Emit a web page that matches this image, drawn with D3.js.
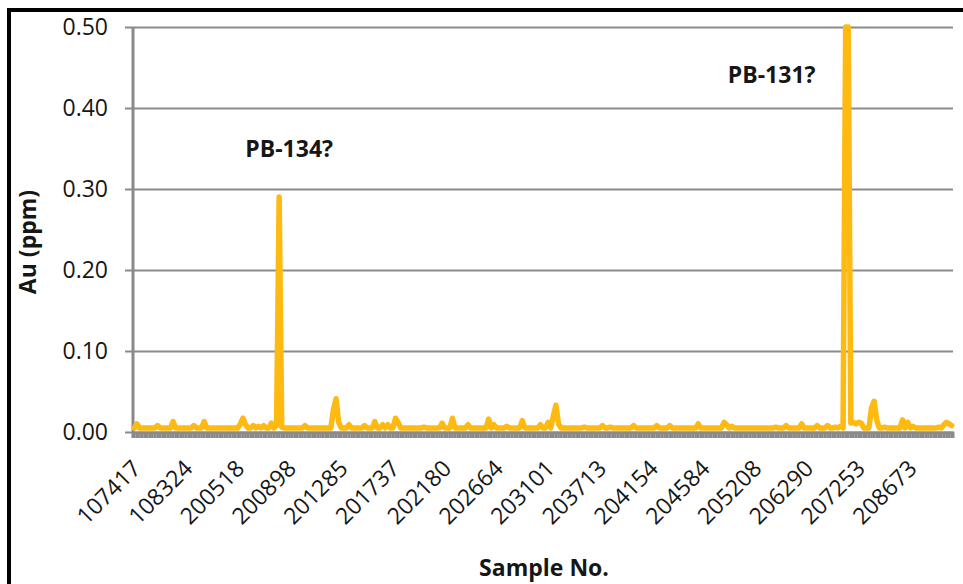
<!DOCTYPE html>
<html>
<head>
<meta charset="utf-8">
<script src="https://cdn.jsdelivr.net/npm/d3@7"></script>
<style>
  body { margin: 0; background: #fff; }
  svg { display: block; font-family: "Open Sans", Lato, sans-serif; }
</style>
</head>
<body>
<svg id="chart" width="963" height="584"></svg>
<script>
// Au assays (ppm), one value per sample in sequence order
const auValues = [
  0.005,0.010,0.005,0.005,0.005,0.005,0.005,0.005,0.005,0.008,0.005,0.005,0.005,0.005,0.005,0.013,0.005,0.005,0.005,0.005,
  0.005,0.005,0.005,0.008,0.005,0.005,0.005,0.013,0.005,0.005,0.005,0.005,0.005,0.005,0.005,0.005,0.005,0.005,0.005,0.005,
  0.005,0.010,0.017,0.009,0.005,0.005,0.008,0.005,0.007,0.005,0.008,0.005,0.005,0.011,0.005,0.008,0.290,0.006,0.005,0.005,
  0.005,0.005,0.005,0.005,0.005,0.005,0.008,0.005,0.005,0.005,0.005,0.005,0.005,0.005,0.005,0.005,0.005,0.028,0.041,0.012,
  0.005,0.005,0.005,0.009,0.005,0.005,0.005,0.005,0.005,0.008,0.005,0.005,0.005,0.013,0.005,0.005,0.009,0.005,0.009,0.005,
  0.005,0.017,0.012,0.005,0.005,0.005,0.005,0.005,0.005,0.005,0.005,0.005,0.006,0.005,0.005,0.005,0.005,0.005,0.005,0.011,
  0.005,0.005,0.005,0.017,0.005,0.005,0.005,0.005,0.005,0.009,0.005,0.005,0.005,0.005,0.005,0.005,0.005,0.016,0.005,0.009,
  0.005,0.005,0.005,0.005,0.007,0.005,0.005,0.005,0.005,0.005,0.014,0.005,0.005,0.005,0.005,0.005,0.005,0.009,0.005,0.005,
  0.012,0.005,0.020,0.033,0.010,0.005,0.005,0.005,0.005,0.005,0.005,0.005,0.005,0.005,0.006,0.005,0.005,0.005,0.005,0.005,
  0.005,0.008,0.005,0.005,0.006,0.005,0.005,0.005,0.005,0.005,0.005,0.005,0.005,0.008,0.005,0.005,0.005,0.005,0.005,0.005,
  0.005,0.005,0.008,0.005,0.005,0.005,0.005,0.008,0.005,0.005,0.005,0.005,0.005,0.005,0.005,0.005,0.005,0.005,0.010,0.005,
  0.005,0.005,0.005,0.005,0.005,0.005,0.005,0.005,0.012,0.009,0.005,0.007,0.005,0.005,0.005,0.005,0.005,0.005,0.005,0.005,
  0.005,0.005,0.005,0.005,0.005,0.005,0.005,0.005,0.006,0.005,0.005,0.005,0.008,0.005,0.005,0.005,0.005,0.005,0.010,0.005,
  0.005,0.005,0.005,0.005,0.008,0.005,0.005,0.005,0.008,0.005,0.005,0.006,0.005,0.007,0.005,0.500,0.500,0.011,0.012,0.010,
  0.012,0.011,0.005,0.005,0.005,0.030,0.038,0.015,0.005,0.005,0.006,0.005,0.005,0.005,0.005,0.005,0.005,0.015,0.005,0.012,
  0.005,0.007,0.005,0.005,0.005,0.005,0.005,0.005,0.005,0.005,0.005,0.006,0.005,0.009,0.012,0.010,0.008
];

// Sample numbers shown on the category axis (every 20th sample)
const tickLabels = [
  "107417","108324","200518","200898","201285","201737","202180","202664",
  "203101","203713","204154","204584","205208","206290","207253","208673"
];
const labelStep = 20;

const yTicks = [0, 0.1, 0.2, 0.3, 0.4, 0.5];

// Annotated anomalies: label text and the sample it refers to
const annotationText = ["PB-134?", "PB-131?"];
const annotationIndex = [56, 275];

const svg = d3.select("#chart");
const W = 963, H = 584;
const plot = { left: 133, right: 953, top: 27, bottom: 432 };
const textColor = "#161616";
const gridColor = "#8a8a8a";
const fontSize = 23;

// frame
svg.append("rect").attr("width", W).attr("height", H).attr("fill", "#fff");
svg.append("line").attr("x1", 9).attr("x2", 9).attr("y1", 8).attr("y2", H)
  .attr("stroke", "#000").attr("stroke-width", 4);
svg.append("line").attr("x1", 7).attr("x2", W).attr("y1", 10).attr("y2", 10)
  .attr("stroke", "#000").attr("stroke-width", 4);

const x = d3.scaleBand()
  .domain(d3.range(auValues.length))
  .range([plot.left, plot.right]);
const xc = i => x(i) + x.bandwidth() / 2;

const y = d3.scaleLinear().domain([0, 0.5]).range([plot.bottom, plot.top]);

// gridlines + y axis
const yAxis = d3.axisLeft(y)
  .tickValues(yTicks)
  .tickFormat(d3.format(".2f"))
  .tickSize(-(plot.right - plot.left))
  .tickPadding(25);
const gy = svg.append("g").attr("transform", `translate(${plot.left},0)`).call(yAxis);
gy.select(".domain").remove();
gy.selectAll(".tick line")
  .attr("x1", -8)
  .attr("stroke", gridColor).attr("stroke-width", 2);
gy.selectAll(".tick text")
  .attr("fill", textColor)
  .attr("font-size", fontSize)
  .attr("font-family", "'Open Sans', sans-serif");
svg.append("line")
  .attr("x1", plot.left).attr("x2", plot.left)
  .attr("y1", plot.top).attr("y2", plot.bottom + 6)
  .attr("stroke", gridColor).attr("stroke-width", 3);

// category tick marks (one per sample) form the band under the baseline
const xAxis = d3.axisBottom(x)
  .tickValues(d3.range(auValues.length))
  .tickSize(6)
  .tickFormat("");
const gx = svg.append("g").attr("transform", `translate(0,${plot.bottom})`).call(xAxis);
gx.select(".domain").attr("stroke", gridColor).attr("stroke-width", 2);
gx.selectAll(".tick line").attr("stroke", gridColor).attr("stroke-width", 2.7);

// rotated sample-number labels
svg.append("g").selectAll("text")
  .data(tickLabels)
  .join("text")
  .attr("transform", (d, k) => `translate(${xc(k * labelStep) + 8},${plot.bottom + 38}) rotate(-45)`)
  .attr("text-anchor", "end")
  .attr("fill", textColor)
  .attr("font-size", fontSize)
  .text(d => d);

// Au series
const line = d3.line()
  .x((d, i) => xc(i))
  .y(d => y(d));
svg.append("path")
  .datum(auValues)
  .attr("d", line)
  .attr("fill", "none")
  .attr("stroke", "#FFBA12")
  .attr("stroke-width", 5.5)
  .attr("stroke-linejoin", "round")
  .attr("stroke-linecap", "round");

// anomaly labels
const annoOffset = [{ dx: 10, dy: -40 }, { dx: -74, dy: 56 }];
svg.append("g").selectAll("text")
  .data(annotationText)
  .join("text")
  .attr("x", (d, k) => xc(annotationIndex[k]) + annoOffset[k].dx)
  .attr("y", (d, k) => y(auValues[annotationIndex[k]]) + annoOffset[k].dy)
  .attr("text-anchor", "middle")
  .attr("font-weight", "bold")
  .attr("font-size", fontSize)
  .attr("fill", textColor)
  .text(d => d);

// axis titles
svg.append("text")
  .attr("transform", `translate(36,242) rotate(-90)`)
  .attr("text-anchor", "middle")
  .attr("font-weight", "bold")
  .attr("font-size", fontSize)
  .attr("fill", textColor)
  .text("Au (ppm)");
svg.append("text")
  .attr("x", 544).attr("y", 576)
  .attr("text-anchor", "middle")
  .attr("font-weight", "bold")
  .attr("font-size", fontSize)
  .attr("fill", textColor)
  .text("Sample No.");
</script>
</body>
</html>
